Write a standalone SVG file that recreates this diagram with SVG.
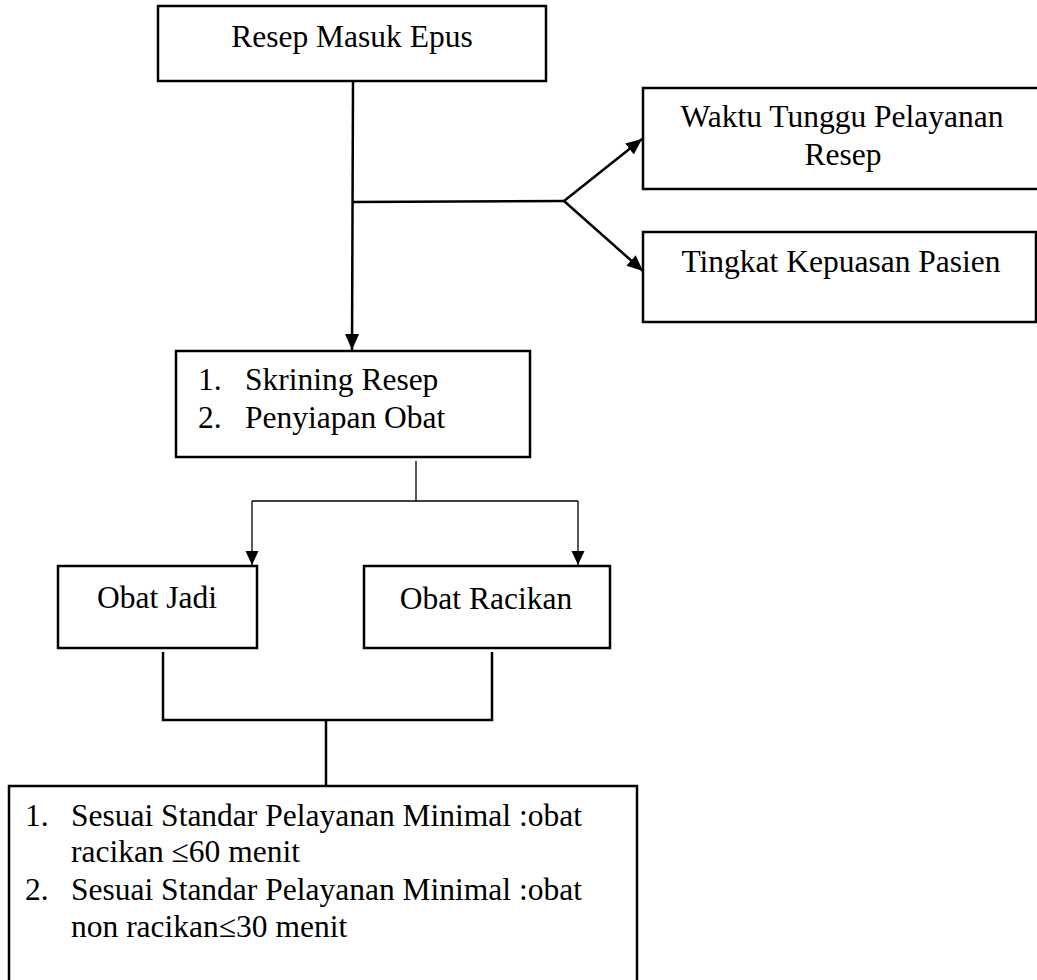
<svg xmlns="http://www.w3.org/2000/svg" width="1037" height="980" viewBox="0 0 1037 980">
<style>
.box{fill:#fff;stroke:#000;stroke-width:2.5}
.t{font-family:"Liberation Serif","Times New Roman",serif;font-size:31.5px;fill:#000}
.c{text-anchor:middle}
.ln{fill:none;stroke:#000;stroke-width:2.5}
.thin{fill:none;stroke:#000;stroke-width:1.3}
</style>
<defs>
<marker id="ah" markerUnits="userSpaceOnUse" markerWidth="16" markerHeight="16" viewBox="0 0 16 16" refX="16" refY="8" orient="auto">
<path d="M0,1 L16,8 L0,15 Z" fill="#000"/>
</marker>
<marker id="ahs" markerUnits="userSpaceOnUse" markerWidth="14" markerHeight="14" viewBox="0 0 14 14" refX="14" refY="7" orient="auto">
<path d="M0,0.5 L14,7 L0,13.5 Z" fill="#000"/>
</marker>
</defs>
<rect width="1037" height="980" fill="#fff"/>
<g id="connectors">
<path class="ln" d="M353,81 L352,350" marker-end="url(#ah)"/>
<path class="ln" d="M353,202 L564,201"/>
<path class="ln" d="M564,201 L642,139" marker-end="url(#ah)"/>
<path class="ln" d="M564,201 L643,271" marker-end="url(#ah)"/>
<path class="thin" d="M416,461 L416,501"/>
<path class="thin" d="M252,501 L578,501"/>
<path class="thin" d="M252,501 L252,565" marker-end="url(#ahs)"/>
<path class="thin" d="M578,501 L578,565" marker-end="url(#ahs)"/>
<path class="ln" d="M163,652 L163,720 L492,720 L492,652"/>
<path class="ln" d="M326,720 L326,786"/>
</g>
<g id="node-resep-masuk">
<rect class="box" x="158" y="6" width="388" height="75"/>
<text class="t c" x="352" y="47">Resep Masuk Epus</text>
</g>
<g id="node-waktu-tunggu">
<rect class="box" x="643" y="88" width="420" height="101"/>
<text class="t c" x="842" y="127">Waktu Tunggu Pelayanan</text>
<text class="t c" x="843" y="165">Resep</text>
</g>
<g id="node-kepuasan">
<rect class="box" x="643" y="232" width="393" height="90"/>
<text class="t c" x="841" y="272">Tingkat Kepuasan Pasien</text>
</g>
<g id="node-skrining">
<rect class="box" x="176" y="351" width="354" height="106"/>
<text class="t" x="198" y="390">1.</text>
<text class="t" x="245" y="390">Skrining Resep</text>
<text class="t" x="198" y="428">2.</text>
<text class="t" x="245" y="428">Penyiapan Obat</text>
</g>
<g id="node-obat-jadi">
<rect class="box" x="58" y="566" width="199" height="82"/>
<text class="t c" x="157" y="608">Obat Jadi</text>
</g>
<g id="node-obat-racikan">
<rect class="box" x="364" y="566" width="246" height="82"/>
<text class="t c" x="486" y="609">Obat Racikan</text>
</g>
<g id="node-standar">
<rect class="box" x="9" y="786" width="628" height="220"/>
<text class="t" x="25" y="826">1.</text>
<text class="t" x="71" y="826">Sesuai Standar Pelayanan Minimal :obat</text>
<text class="t" x="71" y="862">racikan ≤60 menit</text>
<text class="t" x="25" y="900">2.</text>
<text class="t" x="71" y="900">Sesuai Standar Pelayanan Minimal :obat</text>
<text class="t" x="71" y="937">non racikan≤30 menit</text>
</g>
</svg>
